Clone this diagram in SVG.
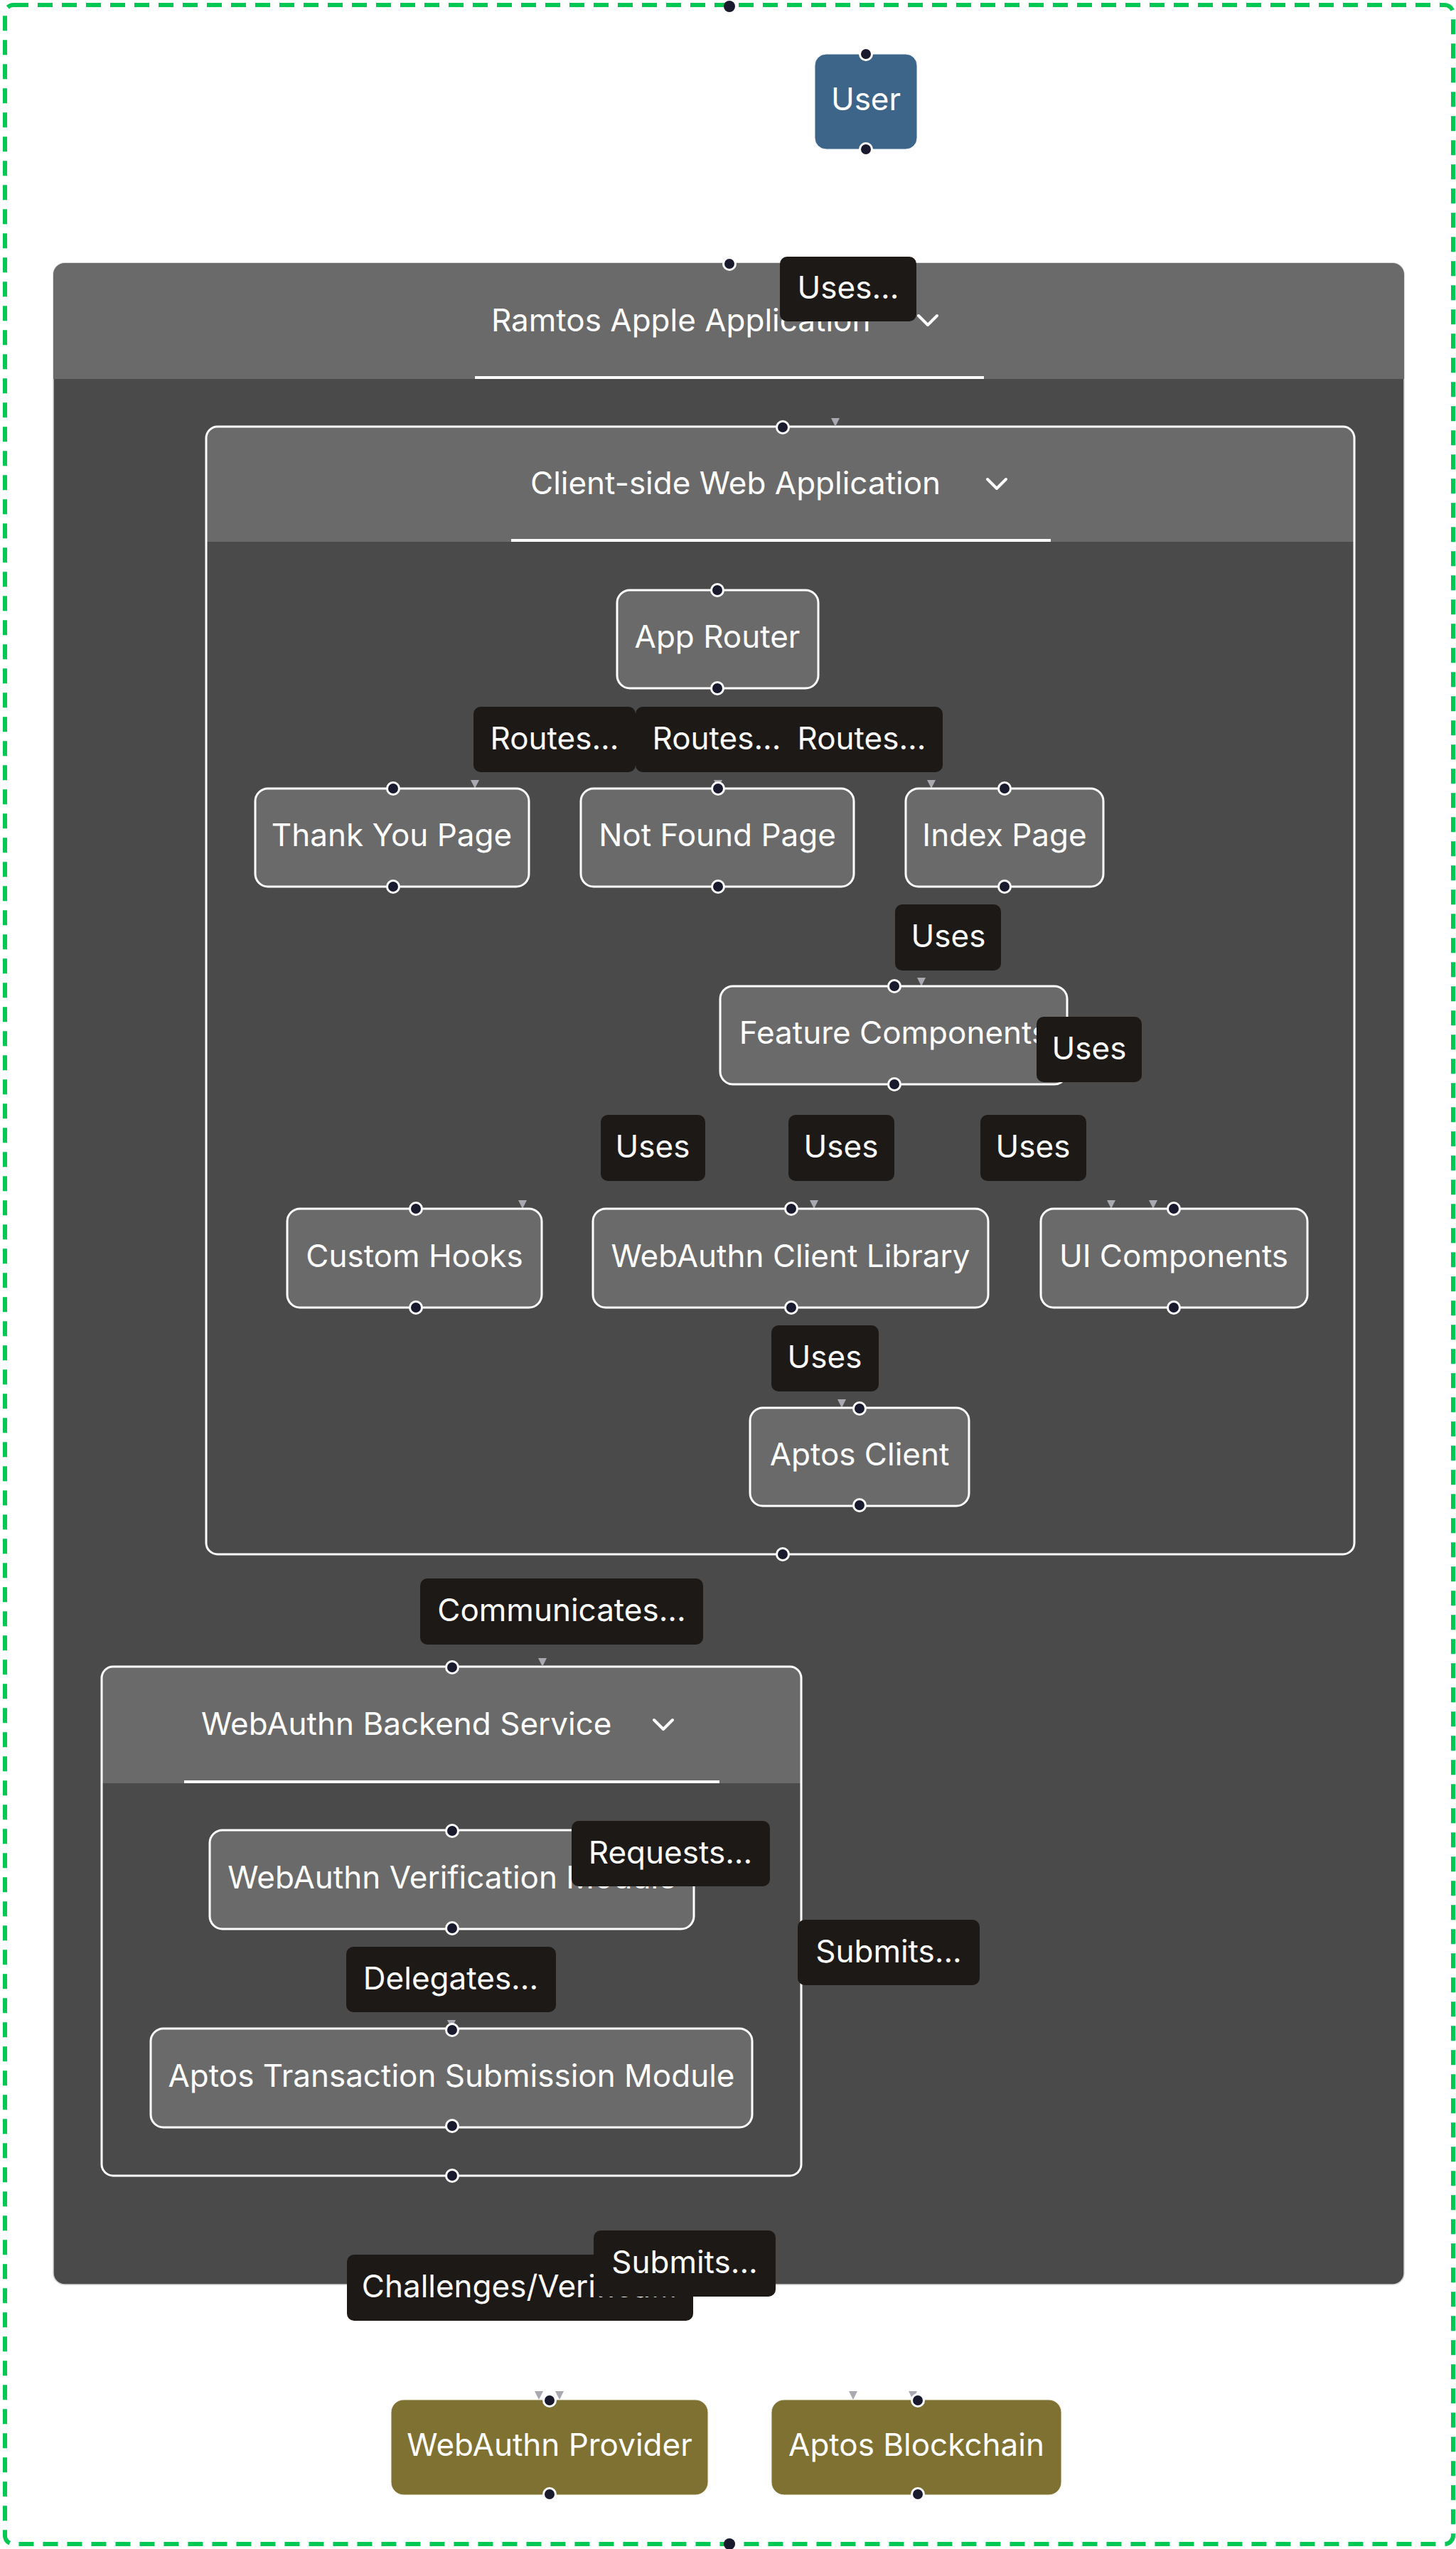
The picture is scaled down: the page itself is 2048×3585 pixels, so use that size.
<svg xmlns="http://www.w3.org/2000/svg" width="2048" height="3585" viewBox="0 0 2048 3585">
<style>
text{font-family:Inter,"Noto Sans","Liberation Sans",sans-serif;font-size:44px;fill:#ffffff}
.c{text-anchor:middle}
.node rect{fill:#6a6a6a;stroke:#ffffff;stroke-width:3}
.ext rect{fill:#7e7132;stroke:#f4f1e6;stroke-width:1}
.dot{fill:#1a1a2e;stroke:#ffffff;stroke-width:3}
.lbl rect{fill:#1c1917}
.chev{fill:none;stroke:#ffffff;stroke-width:4;stroke-linecap:round;stroke-linejoin:round}
.hdr{fill:#6a6a6a}
.body{fill:#4a4a4a}
.ul{fill:#ffffff}
.arr{fill:none;stroke:none}
</style>
<defs>
<marker id="ah" viewBox="0 0 12 12" refX="12" refY="6" markerWidth="12" markerHeight="12" markerUnits="userSpaceOnUse" orient="auto">
<path d="M0,0 L12,6 L0,12 Z" fill="#a9a9b1"/>
</marker>
</defs>
<rect width="2048" height="3585" fill="#ffffff"/>
<g id="boundary">
<rect x="7" y="7" width="2037" height="3571" rx="12" fill="none" stroke="#00c853" stroke-width="6" stroke-dasharray="21 13"/>
<circle cx="1026" cy="9" r="8" fill="#1a1a2e"/>
<circle cx="1026" cy="3578" r="8" fill="#1a1a2e"/>
</g>
<g id="ramtos-app">
<rect class="body" x="75" y="370" width="1900" height="2843" rx="16" stroke="#cfcfcf" stroke-width="1.5"/>
<path class="hdr" d="M75 533 V386 A16 16 0 0 1 91 370 H1959 A16 16 0 0 1 1975 386 V533 Z"/>
<rect class="ul" x="668" y="529" width="716" height="4"/>
<text x="691" y="466">Ramtos Apple Application</text>
<path class="chev" d="M1292 444 L1305 457 L1318 444"/>
<circle class="dot" cx="1026" cy="371" r="8.5"/>
<circle class="dot" cx="1026" cy="3213" r="8.5"/>
</g>
<g id="client-web-app">
<rect class="body" x="290" y="600" width="1615" height="1586" rx="16"/>
<path class="hdr" d="M290 762 V616 A16 16 0 0 1 306 600 H1889 A16 16 0 0 1 1905 616 V762 Z"/>
<rect x="290" y="600" width="1615" height="1586" rx="16" fill="none" stroke="#ffffff" stroke-width="3"/>
<rect class="ul" x="719" y="758" width="759" height="4"/>
<text x="746" y="695">Client-side Web Application</text>
<path class="chev" d="M1389 674 L1402 687 L1415 674"/>
</g>
<g id="backend-service">
<rect class="body" x="143" y="2344" width="984" height="716" rx="16"/>
<path class="hdr" d="M143 2508 V2360 A16 16 0 0 1 159 2344 H1111 A16 16 0 0 1 1127 2360 V2508 Z"/>
<rect x="143" y="2344" width="984" height="716" rx="16" fill="none" stroke="#ffffff" stroke-width="3"/>
<rect class="ul" x="259" y="2504" width="753" height="4"/>
<text x="283" y="2440">WebAuthn Backend Service</text>
<path class="chev" d="M920 2419 L933 2432 L946 2419"/>
</g>
<g id="connectors">
<path class="arr" d="M1175 588 V600" marker-end="url(#ah)"/>
<path class="arr" d="M668 1097 V1109" marker-end="url(#ah)"/>
<path class="arr" d="M1010 1097 V1109" marker-end="url(#ah)"/>
<path class="arr" d="M1310 1097 V1109" marker-end="url(#ah)"/>
<path class="arr" d="M1296 1375 V1387" marker-end="url(#ah)"/>
<path class="arr" d="M735 1688 V1700" marker-end="url(#ah)"/>
<path class="arr" d="M1145 1688 V1700" marker-end="url(#ah)"/>
<path class="arr" d="M1563 1688 V1700" marker-end="url(#ah)"/>
<path class="arr" d="M1622 1688 V1700" marker-end="url(#ah)"/>
<path class="arr" d="M1184 1968 V1980" marker-end="url(#ah)"/>
<path class="arr" d="M763 2332 V2344" marker-end="url(#ah)"/>
<path class="arr" d="M635 2841 V2853" marker-end="url(#ah)"/>
<path class="arr" d="M758 3363 V3375" marker-end="url(#ah)"/>
<path class="arr" d="M787 3363 V3375" marker-end="url(#ah)"/>
<path class="arr" d="M1200 3363 V3375" marker-end="url(#ah)"/>
<path class="arr" d="M1284 3363 V3375" marker-end="url(#ah)"/>
</g>
<g id="container-handles">
<circle class="dot" cx="1101" cy="601" r="8.5"/>
<circle class="dot" cx="1101" cy="2186" r="8.5"/>
<circle class="dot" cx="636" cy="2345" r="8.5"/>
<circle class="dot" cx="636" cy="3060" r="8.5"/>
</g>
<g id="user" class="ext">
<rect x="1146" y="76" width="144" height="134" rx="16" style="fill:#3d6589;stroke:#f2f4f6"/>
<text class="c" x="1218" y="155">User</text>
<circle class="dot" cx="1218" cy="76" r="8.5"/>
<circle class="dot" cx="1218" cy="210" r="8.5"/>
</g>
<g id="app-router" class="node">
<rect x="868" y="830" width="283" height="138" rx="18"/>
<text class="c" x="1009" y="911">App Router</text>
<circle class="dot" cx="1009" cy="830" r="8.5"/>
<circle class="dot" cx="1009" cy="968" r="8.5"/>
</g>
<g id="thank-you-page" class="node">
<rect x="359" y="1109" width="385" height="138" rx="18"/>
<text class="c" x="551" y="1190">Thank You Page</text>
<circle class="dot" cx="553" cy="1109" r="8.5"/>
<circle class="dot" cx="553" cy="1247" r="8.5"/>
</g>
<g id="not-found-page" class="node">
<rect x="817" y="1109" width="384" height="138" rx="18"/>
<text class="c" x="1009" y="1190">Not Found Page</text>
<circle class="dot" cx="1010" cy="1109" r="8.5"/>
<circle class="dot" cx="1010" cy="1247" r="8.5"/>
</g>
<g id="index-page" class="node">
<rect x="1274" y="1109" width="278" height="138" rx="18"/>
<text class="c" x="1413" y="1190">Index Page</text>
<circle class="dot" cx="1413" cy="1109" r="8.5"/>
<circle class="dot" cx="1413" cy="1247" r="8.5"/>
</g>
<g id="feature-components" class="node">
<rect x="1013" y="1387" width="488" height="138" rx="18"/>
<text class="c" x="1257" y="1468">Feature Components</text>
<circle class="dot" cx="1258" cy="1387" r="8.5"/>
<circle class="dot" cx="1258" cy="1525" r="8.5"/>
</g>
<g id="custom-hooks" class="node">
<rect x="404" y="1700" width="358" height="139" rx="18"/>
<text class="c" x="583" y="1782">Custom Hooks</text>
<circle class="dot" cx="585" cy="1700" r="8.5"/>
<circle class="dot" cx="585" cy="1839" r="8.5"/>
</g>
<g id="webauthn-client-library" class="node">
<rect x="834" y="1700" width="556" height="139" rx="18"/>
<text class="c" x="1112" y="1782">WebAuthn Client Library</text>
<circle class="dot" cx="1113" cy="1700" r="8.5"/>
<circle class="dot" cx="1113" cy="1839" r="8.5"/>
</g>
<g id="ui-components" class="node">
<rect x="1464" y="1700" width="375" height="139" rx="18"/>
<text class="c" x="1651" y="1782">UI Components</text>
<circle class="dot" cx="1651" cy="1700" r="8.5"/>
<circle class="dot" cx="1651" cy="1839" r="8.5"/>
</g>
<g id="aptos-client" class="node">
<rect x="1055" y="1980" width="308" height="138" rx="18"/>
<text class="c" x="1209" y="2061">Aptos Client</text>
<circle class="dot" cx="1209" cy="1981" r="8.5"/>
<circle class="dot" cx="1209" cy="2117" r="8.5"/>
</g>
<g id="webauthn-verification-module" class="node">
<rect x="295" y="2574" width="681" height="139" rx="18"/>
<text class="c" x="636" y="2656">WebAuthn Verification Module</text>
<circle class="dot" cx="636" cy="2575" r="8.5"/>
<circle class="dot" cx="636" cy="2712" r="8.5"/>
</g>
<g id="aptos-transaction-submission-module" class="node">
<rect x="212" y="2853" width="846" height="139" rx="18"/>
<text class="c" x="635" y="2935">Aptos Transaction Submission Module</text>
<circle class="dot" cx="636" cy="2855" r="8.5"/>
<circle class="dot" cx="636" cy="2990" r="8.5"/>
</g>
<g id="webauthn-provider" class="ext">
<rect x="550" y="3375" width="446" height="134" rx="18"/>
<text class="c" x="773" y="3454">WebAuthn Provider</text>
<circle class="dot" cx="773" cy="3376" r="8.5"/>
<circle class="dot" cx="773" cy="3508" r="8.5"/>
</g>
<g id="aptos-blockchain" class="ext">
<rect x="1085" y="3375" width="408" height="134" rx="18"/>
<text class="c" x="1289" y="3454">Aptos Blockchain</text>
<circle class="dot" cx="1291" cy="3376" r="8.5"/>
<circle class="dot" cx="1291" cy="3508" r="8.5"/>
</g>
<g id="connector-labels">
<g class="lbl"><rect x="1097" y="361" width="192" height="91" rx="10"/><text class="c" x="1193" y="420">Uses...</text></g>
<g class="lbl"><rect x="666" y="994" width="228" height="92" rx="10"/><text class="c" x="780" y="1054">Routes...</text></g>
<g class="lbl"><rect x="894" y="994" width="228" height="92" rx="10"/><text class="c" x="1008" y="1054">Routes...</text></g>
<g class="lbl"><rect x="1098" y="994" width="228" height="92" rx="10"/><text class="c" x="1212" y="1054">Routes...</text></g>
<g class="lbl"><rect x="1259" y="1272" width="149" height="93" rx="10"/><text class="c" x="1334" y="1332">Uses</text></g>
<g class="lbl"><rect x="1458" y="1430" width="148" height="92" rx="10"/><text class="c" x="1532" y="1490">Uses</text></g>
<g class="lbl"><rect x="845" y="1568" width="147" height="93" rx="10"/><text class="c" x="918" y="1628">Uses</text></g>
<g class="lbl"><rect x="1109" y="1568" width="149" height="93" rx="10"/><text class="c" x="1183" y="1628">Uses</text></g>
<g class="lbl"><rect x="1379" y="1568" width="149" height="93" rx="10"/><text class="c" x="1453" y="1628">Uses</text></g>
<g class="lbl"><rect x="1085" y="1864" width="151" height="93" rx="10"/><text class="c" x="1160" y="1924">Uses</text></g>
<g class="lbl"><rect x="591" y="2220" width="398" height="93" rx="10"/><text class="c" x="790" y="2280">Communicates...</text></g>
<g class="lbl"><rect x="804" y="2561" width="279" height="92" rx="10"/><text class="c" x="943" y="2621">Requests...</text></g>
<g class="lbl"><rect x="1122" y="2700" width="256" height="92" rx="10"/><text class="c" x="1250" y="2760">Submits...</text></g>
<g class="lbl"><rect x="487" y="2738" width="295" height="92" rx="10"/><text class="c" x="634" y="2798">Delegates...</text></g>
<g class="lbl"><rect x="488" y="3171" width="487" height="93" rx="10"/><text class="c" x="731" y="3231">Challenges/Verifica...</text></g>
<g class="lbl"><rect x="835" y="3137" width="256" height="93" rx="10"/><text class="c" x="963" y="3197">Submits...</text></g>
</g>
</svg>
